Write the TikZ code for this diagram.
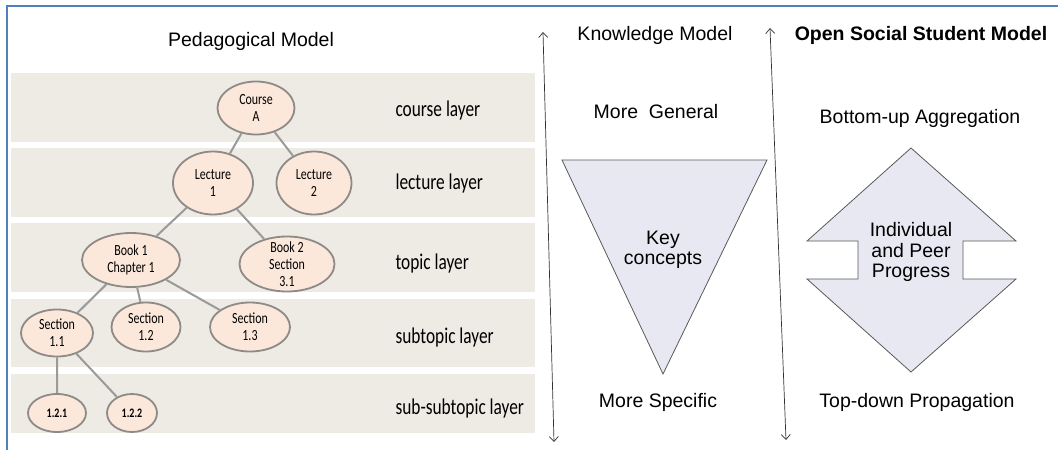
\documentclass[tikz,border=0pt]{standalone}
\usepackage{fontspec}
\setmainfont{Liberation Sans}
\newfontfamily\calib[FakeStretch=0.77]{Carlito}
\usetikzlibrary{positioning,shapes.geometric,arrows.meta}

\definecolor{layerbg}{HTML}{EEEBE4}
\definecolor{nodefill}{HTML}{FBE8DA}
\definecolor{nodeline}{HTML}{8E8A87}
\definecolor{linkgray}{HTML}{9A9A9A}
\definecolor{shapefill}{HTML}{E8E8F3}
\definecolor{frameblue}{HTML}{4F81BD}

\tikzset{
  topic/.style={ellipse, draw=nodeline, fill=nodefill, line width=1.8pt, inner sep=0pt,
    align=center, font=\calib\fontsize{15.5}{17}\selectfont},
  link/.style={draw=linkgray, line width=2pt},
  layer/.style={anchor=west, font=\calib\fontsize{22.5}{24}\selectfont},
  head/.style={font=\fontsize{19.5}{20.5}\selectfont, align=center},
  axis/.style={{Straight Barb[length=5pt,width=9pt]}-{Straight Barb[length=5pt,width=9pt]},
    line width=0.7pt, draw=black!80},
  wedge/.style={fill=shapefill, draw=black!65, line width=0.8pt},
}

\begin{document}
\begin{tikzpicture}[x=1pt,y=-1pt,on grid]
  \useasboundingbox (0,0) rectangle (1058,450);

  % layers
  \foreach \top/\bot/\lab/\ly [count=\i] in {73/142/course layer/110, 148/217/lecture layer/183,
      223/292/topic layer/263, 299/367/subtopic layer/337, 374/433/sub-subtopic layer/408} {
    \fill[layerbg] (11,\top) rectangle (535,\bot);
    \node[layer] (lay\i) at (392,\ly) {\lab};
  }

  \node[head] (pedtitle) at (251,41) {Pedagogical Model};

  % tree
  \node[topic, minimum width=77pt, minimum height=53pt] (course) at (256,108) {Course\\A};
  \node[topic, minimum width=80pt, minimum height=63pt, below left=75pt and 43pt of course] (lec1) {Lecture\\1};
  \node[topic, minimum width=75pt, minimum height=63pt, right=101pt of lec1] (lec2) {Lecture\\2};
  \node[topic, minimum width=98pt, minimum height=54pt, below left=77pt and 82pt of lec1] (book1) {Book 1\\Chapter 1};
  \node[topic, minimum width=95pt, minimum height=55pt, inner ysep=-8pt, below right=81pt and 74pt of lec1] (book2) {Book 2\\Section\\3.1};
  \node[topic, minimum width=72pt, minimum height=47pt, below left=73pt and 74pt of book1] (sec11) {Section\\1.1};
  \node[topic, minimum width=69pt, minimum height=49pt, below right=67pt and 15pt of book1] (sec12) {Section\\1.2};
  \node[topic, minimum width=80pt, minimum height=49pt, below right=67pt and 119pt of book1] (sec13) {Section\\1.3};
  \node[topic, minimum width=58pt, minimum height=38pt, font=\calib\bfseries\fontsize{13}{14}\selectfont, below=80pt of sec11] (s121) {1.2.1};
  \node[topic, minimum width=50pt, minimum height=38pt, font=\calib\bfseries\fontsize{13}{14}\selectfont, below right=80pt and 75pt of sec11] (s122) {1.2.2};

  \path[link] (course) -- (lec1) (course) -- (lec2)
    (lec1) -- (book1) (lec1) -- (book2)
    (book1) -- (sec11) (book1) -- (sec12) (book1) -- (sec13)
    (sec11) -- (s121) (sec11) -- (s122);

  % knowledge model
  \coordinate (kmtop) at (543,32);
  \coordinate (kmbot) at (554,442);
  \draw[axis] (kmbot) -- (kmtop);
  \node[head] (kmtitle) at (655,35) {Knowledge Model};
  \node[head] (gen) at (656,112) {More\ \ General};
  \filldraw[wedge] (562,160) -- (767,160) -- (663,374) -- cycle;
  \node[head] (keyc) at (663,250) {Key\\concepts};
  \node[head] (spec) at (658,402) {More Specific};

  % open social student model
  \coordinate (ostop) at (770,28);
  \coordinate (osbot) at (786,440);
  \draw[axis] (osbot) -- (ostop);
  \node[head, font=\bfseries\fontsize{19.5}{20.5}\selectfont] (osmtitle) at (921,35) {Open Social Student Model};
  \node[head] (bottomup) at (920,118) {Bottom-up Aggregation};
  \filldraw[wedge] (911,148) -- (1016,241) -- (963,241) -- (963,279) -- (1016,279) -- (911,372)
    -- (807,279) -- (858,279) -- (858,241) -- (807,241) -- cycle;
  \node[head] (prog) at (911,252) {Individual\\and Peer\\Progress};
  \node[head] (topdown) at (917,402) {Top-down Propagation};

  % frame
  \draw[frameblue, line width=2.3pt] (7,450) -- (7,6) -- (1058,6);
\end{tikzpicture}
\end{document}
